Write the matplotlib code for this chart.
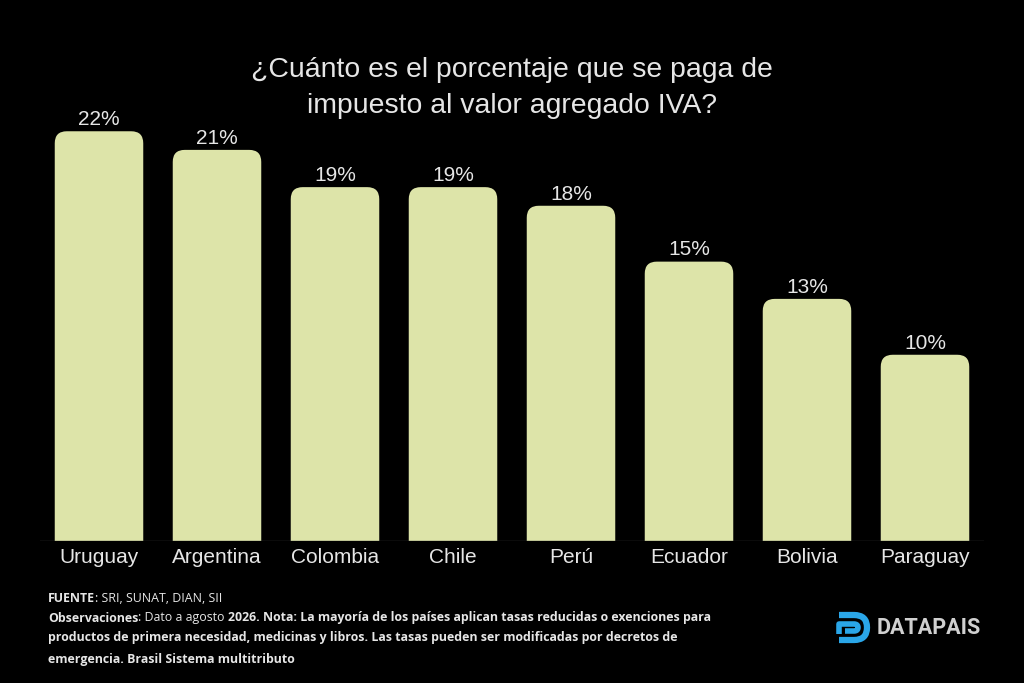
import matplotlib
matplotlib.use("Agg")
import matplotlib.pyplot as plt
from matplotlib.patches import FancyBboxPatch
from matplotlib.path import Path
from matplotlib.patches import PathPatch

# data
paises = ["Uruguay", "Argentina", "Colombia", "Chile", "Perú", "Ecuador", "Bolivia", "Paraguay"]
iva = [22, 21, 19, 19, 18, 15, 13, 10]
etiquetas = ["22%", "21%", "19%", "19%", "18%", "15%", "13%", "10%"]

BG = "black"
BAR_COLOR = "#dde4a9"
TXT = "#e6e6e6"

plt.rcParams["font.family"] = ["Liberation Sans", "DejaVu Sans"]

W, H = 1024, 683
fig = plt.figure(figsize=(W / 100, H / 100), dpi=100, facecolor=BG)
ax = fig.add_axes([40 / W, 1 - 541 / H, 944 / W, (541 - 40) / H])
ax.set_facecolor(BG)

ymax = 26.9
ax.set_xlim(-0.5, len(paises) - 0.5)
ax.set_ylim(0, ymax)

# pixel scale -> data units for the rounded corners
px_x = 944 / len(paises)
px_y = (541 - 40) / ymax
radius = 12 / px_x
aspect = px_x / px_y
bw = 0.75

for i, v in enumerate(iva):
    box = FancyBboxPatch((i - bw / 2, -3), bw, v + 3,
                         boxstyle="round,pad=0,rounding_size={}".format(radius),
                         mutation_aspect=aspect,
                         facecolor=BAR_COLOR, edgecolor="none", clip_on=True)
    ax.add_patch(box)
    ax.text(i, v + 0.12, etiquetas[i], ha="center", va="bottom",
            color=TXT, fontsize=15)

ax.axhline(0, color="#3a3a3a", lw=1)

ax.set_xticks(range(len(paises)))
ax.set_xticklabels(paises, color=TXT, fontsize=15)
ax.tick_params(axis="x", length=0, pad=5)
ax.set_yticks([])
for s in ax.spines.values():
    s.set_visible(False)

fig.text(0.5, 1 - 70 / H, "¿Cuánto es el porcentaje que se paga de", ha="center",
         va="center", color=TXT, fontsize=20.4)
fig.text(0.5, 1 - 106 / H, "impuesto al valor agregado IVA?", ha="center",
         va="center", color=TXT, fontsize=20.4)

# footer
fs = 8.9
ff = ["Open Sans", "DejaVu Sans"]
x0 = 48 / W
t1 = fig.text(x0, 1 - 598 / H, "FUENTE", fontsize=fs, fontweight="bold",
              color=TXT, family=ff, va="center")
ax.annotate(": SRI, SUNAT, DIAN, SII", xy=(1, 0.5), xycoords=t1, va="center",
            fontsize=fs, color=TXT, family=ff, annotation_clip=False)

t2 = fig.text(x0, 1 - 618 / H, "Observaciones", fontsize=fs, fontweight="bold",
              color=TXT, family=ff, va="center")
t3 = ax.annotate(": Dato a agosto ", xy=(1, 0.5), xycoords=t2, va="center",
                 fontsize=fs, color=TXT, family=ff, annotation_clip=False)
ax.annotate("2026. Nota: La mayoría de los países aplican tasas reducidas o exenciones para",
            xy=(1, 0.5), xycoords=t3, va="center", fontsize=fs, fontweight="bold",
            color=TXT, family=ff, annotation_clip=False)
fig.text(x0, 1 - 638 / H,
         "productos de primera necesidad, medicinas y libros. Las tasas pueden ser modificadas por decretos de",
         fontsize=fs, fontweight="bold", color=TXT, family=ff, va="center")
fig.text(x0, 1 - 659 / H, "emergencia. Brasil Sistema multitributo",
         fontsize=fs, fontweight="bold", color=TXT, family=ff, va="center")

# logo
lax = fig.add_axes([836 / W, 1 - 644 / H, 36 / W, 36 / H])
lax.set_xlim(0, 36)
lax.set_ylim(0, 36)
lax.axis("off")
outer = Path([(3, 29), (18, 29), (31, 29), (31, 16.5), (31, 4), (18, 4), (3, 4)],
             [Path.MOVETO, Path.LINETO, Path.CURVE3, Path.CURVE3, Path.CURVE3,
              Path.CURVE3, Path.LINETO])
inner = Path([(3, 10), (3, 20), (18, 20), (22, 20), (22, 16.5), (22, 13), (18, 13), (9, 13)],
             [Path.MOVETO, Path.LINETO, Path.LINETO, Path.CURVE3, Path.CURVE3,
              Path.CURVE3, Path.CURVE3, Path.LINETO])
lax.add_patch(PathPatch(outer, facecolor="none", edgecolor="#2aa6e8", lw=4.5,
                        capstyle="butt", joinstyle="round"))
lax.add_patch(PathPatch(inner, facecolor="none", edgecolor="#2aa6e8", lw=4,
                        capstyle="butt", joinstyle="round"))
fig.text(877 / W, 1 - 628 / H, "DATAPAIS", fontsize=15.5, fontweight="bold",
         color="#d0d0d0", family=["Roboto", "DejaVu Sans"], va="center")

fig.savefig("out.png", dpi=100, facecolor=BG)
